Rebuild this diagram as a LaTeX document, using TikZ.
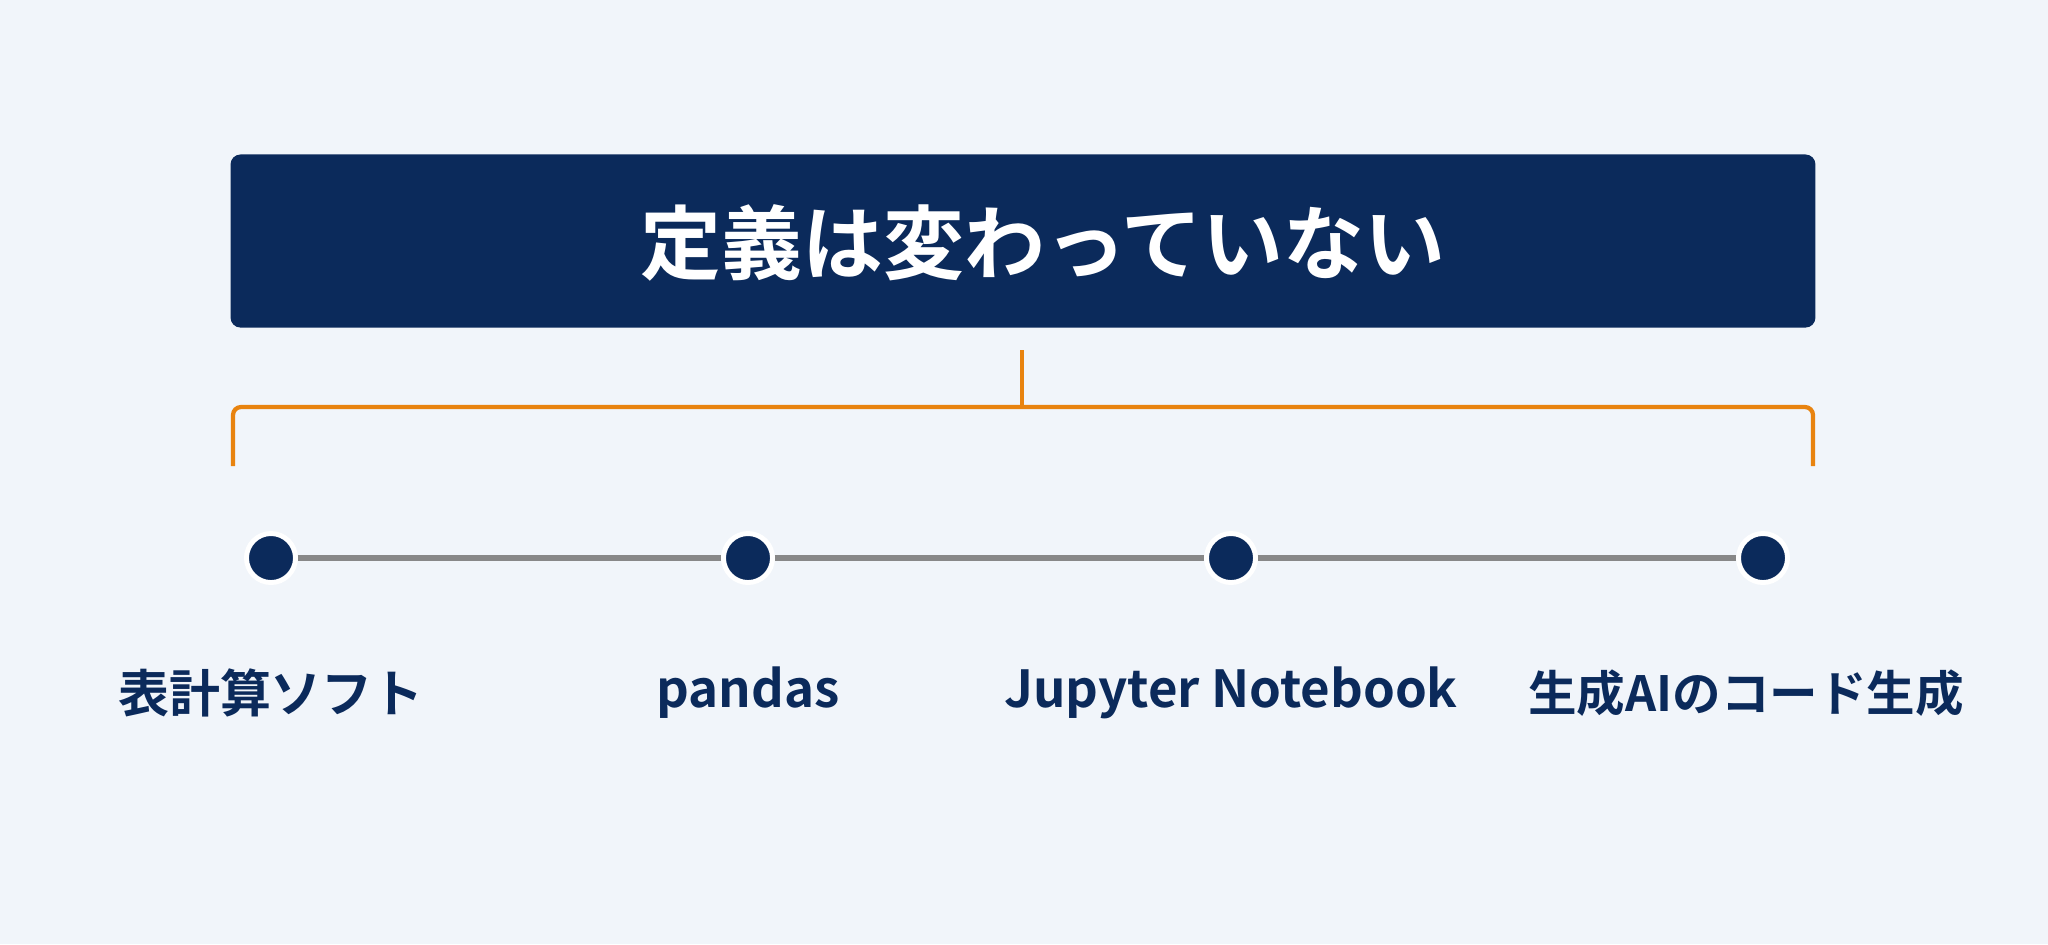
\documentclass[tikz,border=0pt]{standalone}
\usepackage{fontspec}
\setmainfont{Noto Sans CJK JP}[BoldFont={Noto Sans CJK JP Bold}]
\definecolor{navy}{HTML}{0B2A5B}
\definecolor{bg}{HTML}{F1F5FA}
\definecolor{amber}{HTML}{E8830F}
\definecolor{rail}{HTML}{888888}
\tikzset{
	titlebox/.style={fill=navy, rounded corners=0.1cm, minimum width=15.84cm, minimum height=1.73cm, inner sep=0pt},
	titletext/.style={text=white, font=\bfseries\fontsize{23}{27}\selectfont},
	bracket/.style={draw=amber, line width=1.2pt, rounded corners=0.08cm},
	dot/.style={circle, fill=navy, draw=white, line width=1.4pt, minimum size=0.49cm, inner sep=0pt},
	rail/.style={draw=rail, line width=1.7pt},
	label/.style={text=navy, font=\bfseries\fontsize{14.5}{17}\selectfont}
}
\begin{document}
\begin{tikzpicture}[x=0.01cm, y=-0.01cm]
		\fill[bg] (0,0) rectangle (2048,944);
		\useasboundingbox (0,0) rectangle (2048,944);
		\node[titlebox] (title) at (1023,241) {};
		\node[titletext] (titlelabel) at (1043,243) {定義は変わっていない};
		\coordinate (stemtop) at (1022,350);
		\coordinate (stembot) at (1022,407);
		\coordinate (leftend) at (233,466);
		\coordinate (rightend) at (1813,466);
		\draw[bracket] (stemtop) -- (stembot);
		\draw[bracket] (leftend) -- (233,407) -- (1813,407) -- (rightend);
		\node[dot] (d1) at (271,558) {};
		\node[dot] (d2) at (748,558) {};
		\node[dot] (d3) at (1231,558) {};
		\node[dot] (d4) at (1763,558) {};
		\draw[rail] (d1) -- (d2);
		\draw[rail] (d2) -- (d3);
		\draw[rail] (d3) -- (d4);
		\node[label] (l1) at (271,693) {表計算ソフト};
		\node[label] (l2) at (748,693) {pandas};
		\node[label] (l3) at (1231,693) {Jupyter Notebook};
		\node[label, font=\bfseries\fontsize{13.8}{17}\selectfont] (l4) at (1746,693) {生成AIのコード生成};
	\end{tikzpicture}
\end{document}
